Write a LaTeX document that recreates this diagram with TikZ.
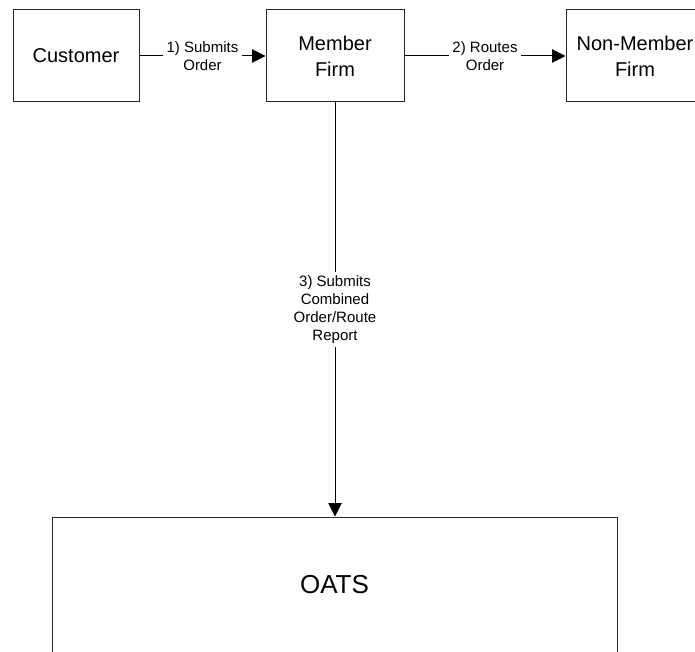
\documentclass[tikz,border=0pt]{standalone}
\usepackage{fontspec}
\setmainfont{Liberation Sans}
\usetikzlibrary{arrows.meta, positioning}

\begin{document}
\begin{tikzpicture}[
  x=0.75pt, y=-0.75pt,
  party/.style={rectangle, draw=black!85, line width=0.75pt, minimum width=103.5pt, minimum height=69pt, align=center, font=\fontsize{15}{19.5}\selectfont},
  flow/.style={-{Triangle[length=10pt, width=10pt]}, line width=0.75pt},
  steplabel/.style={fill=white, inner sep=2.5pt, align=center, font=\fontsize{11.25}{13.5}\selectfont}
]
\useasboundingbox (0,0) rectangle (695,652);

% Parties
\node[party, minimum width=94.5pt] (customer) at (76,56) {Customer};
\node[party] (member) at (335,56) {Member\\Firm};
\node[party] (nonmember) at (635,56) {Non-Member\\Firm};
\node[party, minimum width=423.75pt, minimum height=102pt, font=\fontsize{19.5}{23}\selectfont] (oats) at (334.5,585) {OATS};

% Order flow
\draw[flow] (customer) -- (member) node[steplabel, midway] {1) Submits\\Order};
\draw[flow] (member) -- (nonmember) node[steplabel, midway] {2) Routes\\Order};
\draw[flow] (member.south) -- (oats.north -| member.south) node[steplabel, midway] {3) Submits\\Combined\\Order/Route\\Report};
\end{tikzpicture}
\end{document}
